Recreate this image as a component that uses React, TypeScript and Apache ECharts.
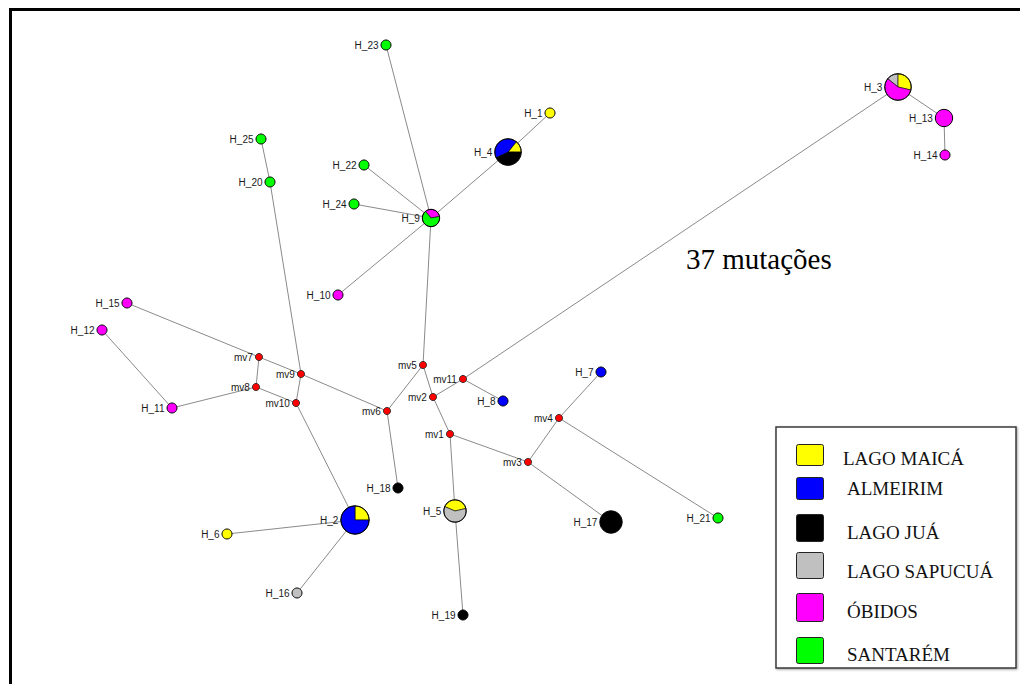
import React, { useEffect, useRef } from "react";
import * as echarts from "echarts";

// Populations (legend order) and their colours
const POPULATIONS = ["LAGO MAICÁ", "ALMEIRIM", "LAGO JUÁ", "LAGO SAPUCUÁ", "ÓBIDOS", "SANTARÉM"];
const POP_COLORS = ["#ffff00", "#0000ff", "#000000", "#c0c0c0", "#ff00ff", "#00ff00"];

// Network nodes (haplotypes H_n and median vectors mv n), layout in figure units
const NODE_NAMES = [
  "H_1", "H_2", "H_3", "H_4", "H_5", "H_6", "H_7", "H_8", "H_9", "H_10",
  "H_11", "H_12", "H_13", "H_14", "H_15", "H_16", "H_17", "H_18", "H_19", "H_20",
  "H_21", "H_22", "H_23", "H_24", "H_25",
  "mv1", "mv2", "mv3", "mv4", "mv5", "mv6", "mv7", "mv8", "mv9", "mv10", "mv11",
];
const NODE_X = [
  550, 355, 898, 508, 455, 227, 601, 503, 431, 338,
  172, 102, 944, 945, 127, 297, 611, 398, 463, 270,
  718, 364, 386, 354, 261,
  450, 433, 528, 559, 423, 387, 259, 256, 301, 296, 463,
];
const NODE_Y = [
  113, 520, 87, 152, 511, 534, 372, 401, 218, 295,
  408, 330, 118, 155, 303, 593, 522, 488, 615, 182,
  518, 165, 45, 204, 139,
  434, 397, 462, 418, 365, 411, 357, 387, 374, 403, 379,
];
// Individuals per population: [LAGO MAICÁ, ALMEIRIM, LAGO JUÁ, LAGO SAPUCUÁ, ÓBIDOS, SANTARÉM]
const NODE_COUNTS = [
  [1, 0, 0, 0, 0, 0], [2, 6, 0, 0, 0, 0], [2, 0, 0, 1, 4, 0], [1, 3, 3, 0, 0, 0], [2, 0, 0, 3, 0, 0],
  [1, 0, 0, 0, 0, 0], [0, 1, 0, 0, 0, 0], [0, 1, 0, 0, 0, 0], [0, 0, 0, 0, 1, 2], [0, 0, 0, 0, 1, 0],
  [0, 0, 0, 0, 1, 0], [0, 0, 0, 0, 1, 0], [0, 0, 0, 0, 3, 0], [0, 0, 0, 0, 1, 0], [0, 0, 0, 0, 1, 0],
  [0, 0, 0, 1, 0, 0], [0, 0, 5, 0, 0, 0], [0, 0, 1, 0, 0, 0], [0, 0, 1, 0, 0, 0], [0, 0, 0, 0, 0, 1],
  [0, 0, 0, 0, 0, 1], [0, 0, 0, 0, 0, 1], [0, 0, 0, 0, 0, 1], [0, 0, 0, 0, 0, 1], [0, 0, 0, 0, 0, 1],
  [], [], [], [], [], [], [], [], [], [], [],
];
// Links of the network
const EDGES: [string, string][] = [
  ["H_23", "H_9"], ["H_22", "H_9"], ["H_24", "H_9"], ["H_9", "H_4"], ["H_4", "H_1"],
  ["H_9", "H_10"], ["H_9", "mv5"], ["mv5", "mv6"], ["mv5", "mv2"], ["mv2", "mv11"],
  ["mv11", "H_8"], ["mv11", "H_3"], ["H_3", "H_13"], ["H_13", "H_14"], ["mv2", "mv1"],
  ["mv1", "H_5"], ["H_5", "H_19"], ["mv1", "mv3"], ["mv3", "mv4"], ["mv4", "H_7"],
  ["mv4", "H_21"], ["mv3", "H_17"], ["mv6", "H_18"], ["mv6", "mv9"], ["mv9", "mv7"],
  ["mv7", "H_15"], ["mv7", "mv8"], ["mv8", "mv10"], ["mv8", "H_11"], ["H_11", "H_12"],
  ["mv9", "mv10"], ["mv9", "H_20"], ["H_20", "H_25"], ["mv10", "H_2"], ["H_2", "H_6"],
  ["H_2", "H_16"],
];
const LONG_EDGE_LABEL = "37 mutações";

// Styling of pie slices: start angle (degrees clockwise from 12 o'clock) and slice order
const PIE_START: Record<string, number> = { H_2: 0, H_3: -51, H_4: 39, H_5: -67, H_9: -40 };
const PIE_ORDER: Record<string, number[]> = { H_3: [3, 0, 4], H_4: [0, 2, 1], H_9: [4, 5] };
// Legend row geometry (styling)
const LEGEND_ROWS = [
  { top: 444, h: 21, tx: 843, ty: 458 },
  { top: 477, h: 22, tx: 847, ty: 488 },
  { top: 514, h: 27, tx: 847, ty: 532 },
  { top: 552, h: 26, tx: 847, ty: 571 },
  { top: 593, h: 28, tx: 847, ty: 611 },
  { top: 637, h: 26, tx: 847, ty: 654 },
];

const W = 1020;
const H = 684;

export default function App() {
  const ref = useRef<HTMLDivElement>(null);

  useEffect(() => {
    if (!ref.current) return;
    const chart = echarts.init(ref.current, undefined, { renderer: "svg" });

    const idx: Record<string, number> = {};
    NODE_NAMES.forEach((n, i) => (idx[n] = i));
    const edgeData = EDGES.map(([a, b]) => [NODE_X[idx[a]], NODE_Y[idx[a]], NODE_X[idx[b]], NODE_Y[idx[b]]]);
    const nodeData = NODE_NAMES.map((n, i) => [NODE_X[i], NODE_Y[i], i]);

    const labelFont = '10px "Liberation Sans", Arial, sans-serif';

    const renderNode = (params: any, api: any) => {
      const i = api.value(2);
      const name = NODE_NAMES[i];
      const [cx, cy] = api.coord([api.value(0), api.value(1)]);
      const counts = NODE_COUNTS[i];
      const children: any[] = [];
      let r: number;
      if (!counts.length) {
        r = 3.6;
        children.push({
          type: "circle",
          shape: { cx, cy, r },
          style: { fill: "#ff0000", stroke: "#222", lineWidth: 0.8 },
        });
      } else {
        const total = counts.reduce((s, v) => s + v, 0);
        r = 5 * Math.sqrt(total);
        const present = counts.map((c, k) => k).filter((k) => counts[k] > 0);
        if (present.length === 1) {
          children.push({
            type: "circle",
            shape: { cx, cy, r },
            style: { fill: POP_COLORS[present[0]], stroke: "#000", lineWidth: 1 },
          });
        } else {
          const order = PIE_ORDER[name] || present;
          let a = PIE_START[name] || 0;
          order.forEach((k) => {
            const span = (counts[k] / total) * 360;
            const s = ((a - 90) * Math.PI) / 180;
            const e = ((a + span - 90) * Math.PI) / 180;
            children.push({
              type: "sector",
              shape: { cx, cy, r0: 0, r, startAngle: s, endAngle: e, clockwise: true },
              style: { fill: POP_COLORS[k], stroke: "#000", lineWidth: 0.6 },
            });
            a += span;
          });
          children.push({
            type: "circle",
            shape: { cx, cy, r },
            style: { fill: "none", stroke: "#000", lineWidth: 1 },
          });
        }
      }
      children.push({
        type: "text",
        style: {
          text: name,
          x: cx - r - 2.5,
          y: cy,
          align: "right",
          verticalAlign: "middle",
          textAlign: "right",
          textVerticalAlign: "middle",
          font: labelFont,
          fill: "#1a1a1a",
        },
      });
      return { type: "group", children };
    };

    const renderEdge = (params: any, api: any) => {
      const p1 = api.coord([api.value(0), api.value(1)]);
      const p2 = api.coord([api.value(2), api.value(3)]);
      return {
        type: "line",
        shape: { x1: p1[0], y1: p1[1], x2: p2[0], y2: p2[1] },
        style: { stroke: "#8a8a8a", lineWidth: 1 },
      };
    };

    const legendBox = {
      type: "rect",
      shape: { x: 776, y: 427, width: 240, height: 241 },
      style: {
        fill: "#fff",
        stroke: "#3a3a3a",
        lineWidth: 1.5,
        shadowBlur: 2,
        shadowOffsetX: 1,
        shadowOffsetY: 1,
        shadowColor: "rgba(0,0,0,0.35)",
      },
      z: 10,
    };
    const legendItems: any[] = [];
    POPULATIONS.forEach((p, k) => {
      const row = LEGEND_ROWS[k];
      legendItems.push({
        type: "rect",
        shape: { x: 796.5, y: row.top + 0.5, width: 27, height: row.h, r: 2 },
        style: { fill: POP_COLORS[k], stroke: "#222", lineWidth: 1 },
        z: 11,
      });
      legendItems.push({
        type: "text",
        style: {
          text: p,
          x: row.tx,
          y: row.ty,
          align: "left",
          verticalAlign: "middle",
          textAlign: "left",
          textVerticalAlign: "middle",
          font: '19px "Liberation Serif", "Times New Roman", serif',
          fill: "#111",
        },
        z: 11,
      });
    });

    chart.setOption({
      animation: false,
      backgroundColor: "#ffffff",
      grid: { left: 0, right: 0, top: 0, bottom: 0, containLabel: false },
      xAxis: { type: "value", min: 0, max: W, show: false },
      yAxis: { type: "value", min: 0, max: H, inverse: true, show: false },
      series: [
        {
          type: "custom",
          name: "links",
          data: edgeData,
          encode: { x: [0, 2], y: [1, 3] },
          renderItem: renderEdge,
          clip: false,
          silent: true,
        },
        {
          type: "custom",
          name: "haplotypes",
          data: nodeData,
          encode: { x: 0, y: 1 },
          renderItem: renderNode,
          clip: false,
          silent: true,
        },
      ],
      graphic: [
        {
          type: "polyline",
          shape: { points: [[10.5, 700], [10.5, 9.5], [1030, 9.5]] },
          style: { stroke: "#000", lineWidth: 3, fill: "none" },
          z: 20,
        },
        {
          type: "text",
          style: {
            text: LONG_EDGE_LABEL,
            x: 686,
            y: 259,
            align: "left",
            verticalAlign: "middle",
            textAlign: "left",
            textVerticalAlign: "middle",
            font: '29px "Liberation Serif", "Times New Roman", serif',
            fill: "#000",
          },
          z: 11,
        },
        legendBox,
        ...legendItems,
      ],
    });

    return () => chart.dispose();
  }, []);

  return (
    <div
      ref={ref}
      style={{ position: "fixed", left: 0, top: 0, width: W, height: H, background: "#fff" }}
    />
  );
}
